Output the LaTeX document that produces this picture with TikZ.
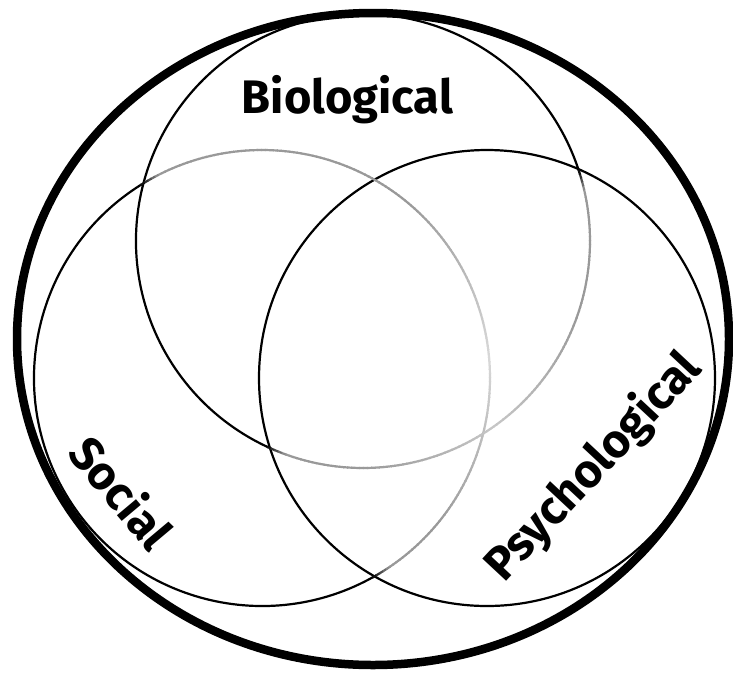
\documentclass[tikz,border=0pt]{standalone}
\usepackage{fontspec}
\setmainfont{Fira Sans}
\begin{document}
\begin{tikzpicture}[x=1pt,y=1pt,
  lbl/.style={font=\bfseries\fontsize{47}{49}\selectfont, inner sep=0pt, text depth=0pt},
  ring/.style={line width=2.2pt, line cap=butt},
  outerring/.style={line width=8.5pt}]
\useasboundingbox (0,0) rectangle (733,-673);
\coordinate (co) at (373,-339);
\coordinate (cb) at (363,-241);
\coordinate (cs) at (262,-378);
\coordinate (cp) at (487,-378);
% outer ellipse
\draw[outerring] (co) ellipse [x radius=356pt, y radius=326pt];
% psychological circle (all black)
\draw[ring] (cp) circle [radius=228pt];
% black parts of social and biological circles
\draw[ring] (cs) ++(122:228pt) arc[start angle=122, end angle=299.5, radius=228pt];
\draw[ring] (cb) ++(17.5:227pt) arc[start angle=17.5, end angle=245.5, radius=227pt];
% faded (grey) parts of social circle
\foreach \a in {-61,-60,...,121}{
  \pgfmathsetmacro\m{\a+0.5}
  \pgfmathsetmacro\ramp{min(1,(\m+61)/5,(122-\m)/5)}
  \pgfmathsetmacro\lt{0.6+0.25*max(0,1-abs(\m-5)/45)}
  \pgfmathsetmacro\k{100*(1-\ramp*\lt)}
  \draw[ring, black!\k] (cs) ++(\a:228pt) arc[start angle=\a, end angle=\a+1.25, radius=228pt];
}
% faded (grey) parts of biological circle
\foreach \a in {-115,-114,...,17}{
  \pgfmathsetmacro\m{\a+0.5}
  \pgfmathsetmacro\ramp{min(1,(\m+115)/5,(18-\m)/5)}
  \pgfmathsetmacro\lt{0.6+0.18*max(0,1-abs(\m+55)/35)}
  \pgfmathsetmacro\k{100*(1-\ramp*\lt)}
  \draw[ring, black!\k] (cb) ++(\a:227pt) arc[start angle=\a, end angle=\a+1.25, radius=227pt];
}
% labels
\node[lbl] (bio) at (347.5,-94.5) {Biological};
\node[lbl, rotate=-50] (soc) at (122.5,-491.5) {Social};
\node[lbl, rotate=47] (psy) at (590,-463.5) {Psychological};
\end{tikzpicture}
\end{document}
